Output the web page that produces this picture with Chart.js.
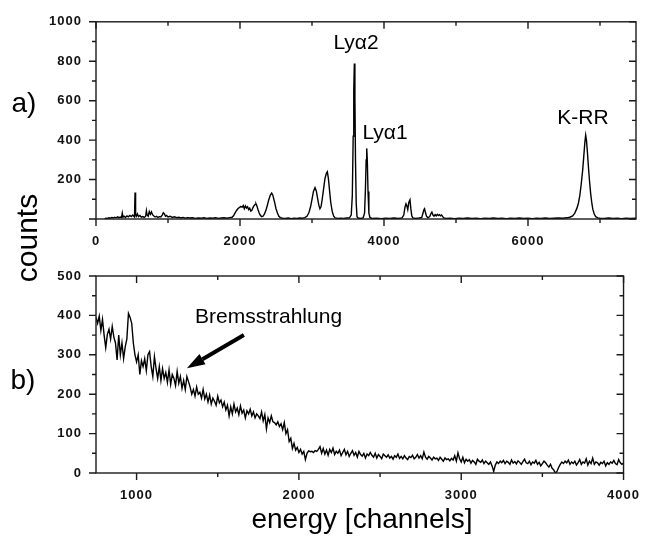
<!DOCTYPE html>
<html>
<head>
<meta charset="utf-8">
<script src="https://cdn.jsdelivr.net/npm/chart.js@4.4.1/dist/chart.umd.min.js"></script>
<style>
  body { margin: 0; background: #fff; }
  #wrap { position: relative; width: 653px; height: 536px; overflow: hidden; font-family: "Liberation Sans", Arial, sans-serif; }
  #wrap canvas { position: absolute; left: 0; }
  #chartA { top: 0; }
  #chartB { top: 250px; }
  .lbl { position: absolute; transform: translate(-50%, -50%); line-height: 1; color: #000; white-space: nowrap; }
</style>
</head>
<body>
<div id="wrap">
  <canvas id="chartA" width="653" height="250"></canvas>
  <canvas id="chartB" width="653" height="286"></canvas>
  <div class="lbl" style="left:24px;top:103px;font-size:28px">a)</div>
  <div class="lbl" style="left:23px;top:380px;font-size:28px">b)</div>
  <div class="lbl" style="left:27px;top:238px;font-size:30px;transform:translate(-50%,-50%) rotate(-90deg)">counts</div>
  <div class="lbl" style="left:362px;top:519px;font-size:28px">energy [channels]</div>
</div>
<script>
// full spectrum (a): [channel, counts]
const spectrumA = [
  [120,2],[140,4],[160,3],[180,6],[200,4],[220,8],[240,5],[260,9],[280,6],[300,11],
  [320,7],[340,10],[355,8],[365,30],[375,9],[390,14],[410,8],[430,16],[450,11],[470,18],
  [490,12],[510,20],[525,14],[535,10],[542,134],[550,22],[560,14],[575,26],[590,12],[610,18],
  [630,9],[650,12],[670,8],[690,14],[700,42],[710,20],[725,14],[740,38],[755,24],[770,36],
  [785,22],[800,16],[820,10],[840,14],[860,8],[880,12],[900,10],[920,20],[935,32],[950,26],
  [965,14],[980,18],[1000,10],[1030,14],[1060,8],[1090,11],[1120,7],[1150,9],[1180,5],[1210,8],
  [1240,4],[1270,7],[1300,5],[1340,6],[1380,3],[1420,5],[1460,4],[1500,6],[1540,3],[1580,5],
  [1620,4],[1660,6],[1700,3],[1740,5],[1780,6],[1820,4],[1860,7],[1890,9],
  [1910,16],[1930,30],[1950,42],[1970,52],[1990,58],[2010,63],[2030,60],[2045,68],[2060,52],[2075,66],
  [2090,56],[2105,62],[2120,48],[2135,55],[2150,40],[2165,44],[2180,58],[2195,68],[2210,74],[2222,77],
  [2235,66],[2250,48],[2265,32],[2280,20],[2300,12],[2320,14],[2340,26],[2360,44],[2380,70],[2400,98],
  [2420,120],[2440,131],[2455,122],[2470,100],[2485,78],[2500,52],[2520,30],[2540,14],[2560,7],[2590,4],
  [2630,3],[2670,5],[2710,2],[2750,4],[2790,3],[2830,5],[2870,4],[2900,7],[2930,14],[2955,30],
  [2980,62],[3000,100],[3020,140],[3042,159],[3060,142],[3080,100],[3095,70],[3110,52],[3125,62],[3140,95],
  [3160,150],[3180,205],[3200,232],[3213,240],[3228,205],[3245,140],[3260,85],[3280,40],[3300,16],[3320,6],
  [3360,3],[3400,4],[3440,3],[3480,5],[3520,6],[3545,20],[3560,120],[3572,420],[3580,650],[3588,789],
  [3596,620],[3604,300],[3614,80],[3625,12],[3640,5],[3680,3],[3710,6],[3730,30],[3742,150],[3752,300],
  [3760,358],[3768,300],[3778,140],[3790,30],[3805,8],[3830,3],[3900,4],[3960,2],[4020,4],[4080,3],
  [4140,5],[4200,3],[4250,6],[4275,20],[4290,58],[4305,77],[4318,66],[4330,48],[4345,85],[4361,97],
  [4372,55],[4385,18],[4400,6],[4440,3],[4490,5],[4525,8],[4540,28],[4555,48],[4563,52],[4575,34],
  [4590,14],[4610,6],[4635,12],[4650,26],[4665,35],[4680,20],[4695,14],[4710,22],[4725,16],[4740,24],
  [4755,18],[4770,22],[4785,16],[4800,20],[4815,12],[4830,6],[4860,3],[4920,4],[4980,2],[5040,4],
  [5100,3],[5160,5],[5220,3],[5280,4],[5340,2],[5400,4],[5460,3],[5520,5],[5580,3],[5640,4],
  [5700,2],[5760,4],[5820,3],[5880,5],[5940,3],[6000,4],[6060,2],[6120,4],[6180,3],[6240,5],
  [6300,3],[6360,4],[6420,5],[6480,4],[6540,6],[6580,9],[6620,16],[6650,30],[6680,55],[6700,80],
  [6720,120],[6740,180],[6760,250],[6775,320],[6790,390],[6801,425],[6812,400],[6825,340],[6840,260],[6855,190],
  [6870,130],[6885,85],[6900,50],[6920,25],[6940,12],[6970,6],[7000,4],[7060,3],[7120,5],[7180,3],
  [7240,4],[7300,2],[7360,4],[7420,3],[7500,4]
];

// bremsstrahlung region (b): counts every 10 channels from channel 750
const bremsStart = 750;
const bremsStep = 10;
const bremsCounts = [
  395, 380, 398, 362, 390, 350, 318, 352, 365, 340,
  372, 345, 330, 287, 350, 300, 330, 290, 320, 340,
  405, 395, 380, 330, 300, 282, 300, 250, 285, 270,
  290, 260, 300, 308, 270, 245, 295, 265, 240, 270,
  235, 265, 240, 255, 230, 262, 225, 250, 240, 222,
  258, 228, 245, 215, 235, 212, 245, 232, 218, 200,
  212, 195, 218, 200, 205, 190, 212, 188, 200, 180,
  198, 175, 190, 182, 172, 195, 178, 185, 168, 180,
  160, 172, 145, 168, 150, 175, 155, 165, 148, 170,
  152, 160, 140, 158, 150, 162, 145, 155, 140, 150,
  145, 138, 155, 132, 148, 112, 140, 128, 145, 130,
  128, 122, 130, 118, 125, 110, 128, 100, 110, 80,
  88, 62, 75, 58, 65, 52, 60, 48, 55, 34,
  50, 56, 54, 55, 52, 57, 55, 60, 67, 50,
  62, 48, 58, 45, 60, 52, 63, 47, 55, 50,
  58, 44, 52, 60, 46, 55, 42, 50, 57, 45,
  52, 40, 55, 47, 43, 50, 38, 48, 44, 52,
  45, 40, 50, 38, 47, 42, 36, 48, 44, 40,
  46, 38, 42, 35, 44, 40, 48, 37, 42, 36,
  44, 38, 34, 42, 39, 45, 36, 40, 47, 38,
  44, 36, 53, 40, 35, 42, 38, 33, 40, 36,
  38, 32, 40, 35, 30, 38, 34, 36, 31, 37,
  33, 44, 30, 51, 36, 28, 40, 26, 35, 30,
  34, 25, 32, 28, 22, 35, 30, 27, 33, 24,
  30, 26, 22, 28, 18, 4, 20, 28, 24, 30,
  26, 32, 24, 30, 27, 22, 33, 25, 29, 23,
  31, 27, 22, 29, 35, 26, 24, 30, 21, 28,
  25, 32, 22, 27, 18, 24, 30, 26, 20, 15,
  22, 12, 8, 0, 4, 14, 22, 28, 24, 30,
  26, 33, 22, 28, 24, 30, 20, 26, 34, 22,
  28, 25, 36, 20, 30, 24, 38, 22, 28, 26,
  20, 27, 24, 30, 18, 26, 22, 28, 25, 32,
  24, 21, 34, 26, 22, 25
];

// tick values
const topXTicks = [0, 2000, 4000, 6000];
const topYTicks = [200, 400, 600, 800, 1000];
const bottomXTicks = [1000, 2000, 3000, 4000];
const bottomYTicks = [0, 100, 200, 300, 400, 500];

// peak names, placed at (channel, counts) of their baseline centre
const peakLabels = [
  { text: 'Ly\u03b12', x: 3611, y: 864 },
  { text: 'Ly\u03b11', x: 4014, y: 408 },
  { text: 'K-RR', x: 6764, y: 483 }
];
const bremsLabel = { text: 'Bremsstrahlung', x: 1813, y: 380 };
const bremsArrow = { from: [1661, 350], to: [1310, 266] };

const tickFont = { family: '"Liberation Sans", Arial, sans-serif', size: 13, weight: 'bold' };

// box frame with Origin-style ticks: outward on left/bottom, inward on top/right
const frame = {
  id: 'frame',
  beforeDraw(chart) {
    chart.ctx.letterSpacing = '1px';
  },
  afterDraw(chart, args, o) {
    const { ctx, chartArea: a } = chart;
    const x = chart.scales.x, y = chart.scales.y;
    ctx.save();
    ctx.strokeStyle = '#1a1a1a';
    ctx.lineWidth = 1.4;
    ctx.strokeRect(a.left, a.top, a.right - a.left, a.bottom - a.top);
    ctx.beginPath();
    for (let v = o.xFrom; v <= x.max; v += o.xMinor) {
      const p = x.getPixelForValue(v);
      const len = v % o.xMajor === 0 ? 7 : 4;
      ctx.moveTo(p, a.bottom); ctx.lineTo(p, a.bottom + len);
      ctx.moveTo(p, a.top); ctx.lineTo(p, a.top + len);
    }
    for (let v = y.min; v <= y.max; v += o.yMinor) {
      const p = y.getPixelForValue(v);
      const len = v % o.yMajor === 0 ? 7 : 4;
      ctx.moveTo(a.left, p); ctx.lineTo(a.left - len, p);
      ctx.moveTo(a.right, p); ctx.lineTo(a.right - len, p);
    }
    ctx.stroke();
    ctx.restore();
  }
};

// text labels and the arrow, positioned in data coordinates
const notes = {
  id: 'notes',
  afterDatasetsDraw(chart, args, o) {
    const { ctx } = chart;
    const x = chart.scales.x, y = chart.scales.y;
    ctx.save();
    ctx.letterSpacing = '0px';
    ctx.fillStyle = '#000';
    ctx.font = '21px "Liberation Sans", Arial, sans-serif';
    ctx.textAlign = 'center';
    ctx.textBaseline = 'alphabetic';
    (o.labels || []).forEach(l => {
      ctx.fillText(l.text, x.getPixelForValue(l.x), y.getPixelForValue(l.y));
    });
    if (o.arrow) {
      const x0 = x.getPixelForValue(o.arrow.from[0]), y0 = y.getPixelForValue(o.arrow.from[1]);
      const x1 = x.getPixelForValue(o.arrow.to[0]), y1 = y.getPixelForValue(o.arrow.to[1]);
      const ang = Math.atan2(y1 - y0, x1 - x0);
      const head = 18, half = 6;
      const bx = x1 - head * Math.cos(ang), by = y1 - head * Math.sin(ang);
      ctx.strokeStyle = '#000';
      ctx.lineWidth = 4;
      ctx.beginPath();
      ctx.moveTo(x0, y0);
      ctx.lineTo(bx, by);
      ctx.stroke();
      ctx.beginPath();
      ctx.moveTo(x1, y1);
      ctx.lineTo(bx + half * Math.sin(ang), by - half * Math.cos(ang));
      ctx.lineTo(bx - half * Math.sin(ang), by + half * Math.cos(ang));
      ctx.closePath();
      ctx.fill();
    }
    ctx.restore();
  }
};

function makePanel(id, points, cfg) {
  return new Chart(document.getElementById(id), {
    type: 'line',
    data: {
      datasets: [{
        data: points,
        borderColor: '#000',
        borderWidth: 1.4,
        pointRadius: 0,
        tension: 0,
        fill: false
      }]
    },
    options: {
      responsive: false,
      animation: false,
      devicePixelRatio: 1,
      parsing: false,
      layout: { padding: { top: cfg.padTop, right: 17, left: 0, bottom: 0 } },
      plugins: {
        legend: { display: false },
        tooltip: { enabled: false },
        frame: cfg.frame,
        notes: cfg.notes
      },
      scales: {
        x: {
          type: 'linear',
          min: cfg.xMin,
          max: cfg.xMax,
          grid: { display: false, drawTicks: false },
          border: { display: false },
          afterBuildTicks: s => { s.ticks = cfg.xTicks.map(v => ({ value: v })); },
          afterFit: s => { s.height = cfg.xAxisHeight; },
          ticks: { font: tickFont, color: '#111', padding: 15, maxRotation: 0, autoSkip: false, callback: v => String(v) }
        },
        y: {
          type: 'linear',
          min: cfg.yMin,
          max: cfg.yMax,
          grid: { display: false, drawTicks: false },
          border: { display: false },
          afterBuildTicks: s => { s.ticks = cfg.yTicks.map(v => ({ value: v })); },
          afterFit: s => { s.width = 96; },
          ticks: { font: tickFont, color: '#111', padding: 14, autoSkip: false, callback: v => String(v) }
        }
      }
    },
    plugins: [frame, notes]
  });
}

makePanel('chartA', spectrumA.map(p => ({ x: p[0], y: p[1] })), {
  padTop: 21, xAxisHeight: 31,
  xMin: 0, xMax: 7500, yMin: 0, yMax: 1000,
  xTicks: topXTicks, yTicks: topYTicks,
  frame: { xFrom: 0, xMinor: 1000, xMajor: 2000, yMinor: 100, yMajor: 200 },
  notes: { labels: peakLabels }
});

makePanel('chartB', bremsCounts.map((c, i) => ({ x: bremsStart + i * bremsStep, y: c })), {
  padTop: 26, xAxisHeight: 63,
  xMin: 750, xMax: 4000, yMin: 0, yMax: 500,
  xTicks: bottomXTicks, yTicks: bottomYTicks,
  frame: { xFrom: 1000, xMinor: 500, xMajor: 1000, yMinor: 50, yMajor: 100 },
  notes: { labels: [bremsLabel], arrow: bremsArrow }
});
</script>
</body>
</html>
